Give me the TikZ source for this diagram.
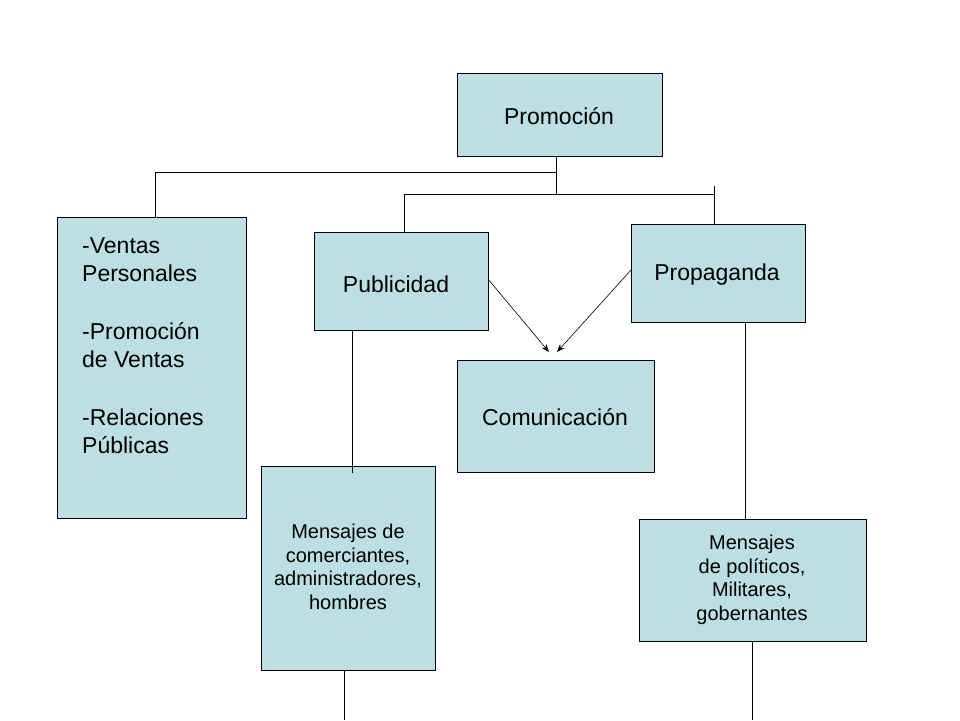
\documentclass[tikz,border=0pt]{standalone}
\usepackage{fontspec}
\setmainfont{Liberation Sans}
\usetikzlibrary{arrows.meta}
\definecolor{boxfill}{HTML}{BBDFE2}
\tikzset{
  box/.style={draw=black, line width=0.8pt, fill=boxfill, inner sep=0pt, anchor=north west, align=center},
  conn/.style={draw=black, line width=0.8pt},
  arr/.style={draw=black, line width=0.6pt, -{Stealth[length=8pt,width=6pt]}},
  bigtxt/.style={font=\fontsize{23}{27}\selectfont},
  smalltxt/.style={font=\fontsize{20}{23.5}\selectfont}
}
\begin{document}
\begin{tikzpicture}[x=1pt,y=-1pt]
\useasboundingbox (0,0) rectangle (960,720);
% boxes
\node[box, minimum width=205pt, minimum height=83pt] (prom) at (457,73) {};
\node[bigtxt] (promt) at (559,116) {Promoción};
\node[box, minimum width=189pt, minimum height=301pt] (left) at (57,217) {};
\node[anchor=north west, inner sep=0pt, align=left, font=\fontsize{23}{28.5}\selectfont] (leftt) at (82,237)
  {-Ventas\\Personales\\[29pt]-Promoción\\de Ventas\\[29pt]-Relaciones\\Públicas};
\node[box, minimum width=174pt, minimum height=98pt] (pub) at (314,232) {};
\node[font=\fontsize{23}{27}\selectfont] (pubt) at (396,284) {Publicidad};
\node[box, minimum width=174pt, minimum height=98pt] (prop) at (631,224) {};
\node[font=\fontsize{23}{27}\selectfont] (propt) at (717,275) {Propaganda};
\node[box, minimum width=197pt, minimum height=112pt] (com) at (457,360) {};
\node[bigtxt] (comt) at (555,417) {Comunicación};
\node[box, minimum width=174pt, minimum height=204pt] (men1) at (261,466) {};
\node[smalltxt, align=center] (men1t) at (348,567) {Mensajes de\\comerciantes,\\administradores,\\hombres};
\node[box, minimum width=227pt, minimum height=122pt] (men2) at (639,519) {};
\node[smalltxt, align=center] (men2t) at (752,580) {Mensajes\\de políticos,\\Militares,\\gobernantes};
% coordinates
\coordinate (j1) at (556,172);
\coordinate (j2) at (556,194);
\coordinate (l1) at (155,172);
\coordinate (p1) at (404,194);
\coordinate (r1) at (714,194);
\coordinate (r0) at (714,186);
\coordinate (a1) at (549,352);
\coordinate (a2) at (557,352);
\coordinate (m1top) at (352,473);
\coordinate (b1) at (344,720);
\coordinate (b2) at (752,720);
% connectors
\draw[conn] (prom.south -| j1) -- (j2);
\draw[conn] (l1) -- (j1);
\draw[conn] (l1) -- (left.north -| l1);
\draw[conn] (p1) -- (r1);
\draw[conn] (p1) -- (pub.north -| p1);
\draw[conn] (r0) -- (prop.north -| r0);
\draw[arr] (pub.east |- 0,280) -- (a1);
\draw[arr] (prop.west |- 0,270) -- (a2);
\draw[conn] (pub.south -| m1top) -- (m1top);
\draw[conn] (men1.south -| b1) -- (b1);
\draw[conn] (prop.south -| 745,0) -- (men2.north -| 745,0);
\draw[conn] (men2.south -| b2) -- (b2);
\end{tikzpicture}
\end{document}
